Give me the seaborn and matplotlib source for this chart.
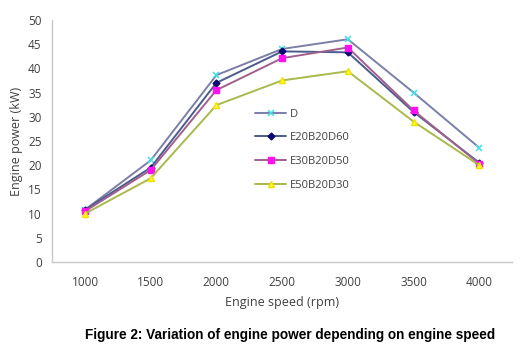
import numpy as np
import pandas as pd
import matplotlib
matplotlib.use("Agg")
import matplotlib.pyplot as plt
import seaborn as sns

# Data
speeds = [1000, 1500, 2000, 2500, 3000, 3500, 4000]
power_d = [10.8, 21.0, 38.6, 44.0, 46.0, 35.0, 23.6]
power_e20 = [10.8, 19.5, 37.0, 43.5, 43.3, 31.0, 20.5]
power_e30 = [10.5, 19.0, 35.5, 42.1, 44.3, 31.3, 20.3]
power_e50 = [10.0, 17.3, 32.4, 37.5, 39.4, 29.0, 20.0]
series_names = ["D", "E20B20D60", "E30B20D50", "E50B20D30"]

styles = {
    "D": dict(color="#7b7fa8", marker="x", mfc="#3fe0ea", mec="#3fe0ea", ms=5, mew=1.1),
    "E20B20D60": dict(color="#4b5b8c", marker="D", mfc="#0a0a70", mec="#0a0a70", ms=3.5, mew=1),
    "E30B20D50": dict(color="#a0608e", marker="s", mfc="#ff10f0", mec="#ff10f0", ms=5, mew=1),
    "E50B20D30": dict(color="#a9b94c", marker="^", mfc="#ffff20", mec="#f0e000", ms=5, mew=1),
}

sns.set_style("white")
plt.rcParams["font.family"] = ["Open Sans", "DejaVu Sans"]

fig = plt.figure(figsize=(5.21, 3.49), dpi=100)
ax = fig.add_axes([0.1, 0.249, 0.883, 0.694])

pos = np.arange(len(speeds))
for name, vals in zip(series_names, [power_d, power_e20, power_e30, power_e50]):
    st = styles[name]
    sns.lineplot(x=pos, y=vals, ax=ax, label=name, color=st["color"], lw=1.4,
                 marker=st["marker"], markerfacecolor=st["mfc"],
                 markeredgecolor=st["mec"], markersize=st["ms"],
                 markeredgewidth=st["mew"])

ax.set_xlim(-0.5, len(speeds) - 0.5)
ax.set_ylim(0, 50)
ax.set_yticks(range(0, 51, 5))
ax.set_xticks(pos)
ax.set_xticklabels([str(s) for s in speeds])
ax.set_xticks(np.arange(-0.5, len(speeds), 1.0), minor=True)
ax.tick_params(axis="x", which="major", length=0, pad=10, labelsize=8.5, colors="#404040")
ax.tick_params(axis="x", which="minor", length=4, color="#c8c8c8", direction="out")
ax.tick_params(axis="y", length=4, color="#c8c8c8", direction="out", labelsize=8.5, colors="#404040")

for side in ["top", "right"]:
    ax.spines[side].set_visible(False)
for side in ["left", "bottom"]:
    ax.spines[side].set_color("#c8c8c8")
    ax.spines[side].set_linewidth(1)

ax.set_xlabel("Engine speed (rpm)", fontsize=9, color="#404040", labelpad=5)
ax.set_ylabel("Engine power (kW)", fontsize=9, color="#404040", labelpad=4)

leg = ax.legend(loc="upper left", bbox_to_anchor=(0.42, 0.675), frameon=False,
                fontsize=8, handlelength=2.8, labelspacing=1.15, handletextpad=0.3)
for t in leg.get_texts():
    t.set_color("#404040")

fig.text(0.557, 0.03, "Figure 2: Variation of engine power depending on engine speed",
         ha="center", fontsize=9.8, fontweight="bold", family="Liberation Sans", color="black")

fig.savefig("out.png", dpi=100)
